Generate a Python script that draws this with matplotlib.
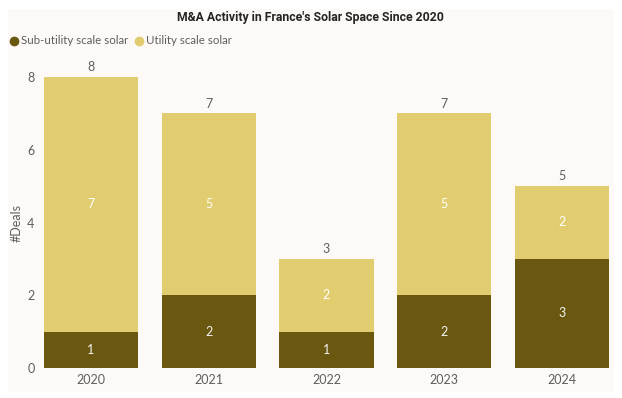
import matplotlib
matplotlib.use("Agg")
import matplotlib.pyplot as plt
from matplotlib.patches import Rectangle
import numpy as np

years = ["2020", "2021", "2022", "2023", "2024"]
sub_utility = [1, 2, 1, 2, 3]
utility = [7, 5, 2, 5, 2]
totals = [8, 7, 3, 7, 5]
y_ticks = [0, 2, 4, 6, 8]

W, H = 622, 398
fig = plt.figure(figsize=(W/100, H/100), dpi=100)
fig.patch.set_facecolor("white")
fig.add_artist(Rectangle((8/W, 6/H), (614-8)/W, (392-9)/H, transform=fig.transFigure,
                         facecolor="#fdf9f6", edgecolor="none", zorder=0))

plt.rcParams['font.family'] = ['Lato', 'DejaVu Sans']
dark = "#6a5810"
light = "#e1cd6f"
gray = "#605e5c"
fs = 9

ax_l, ax_r = 40, 612
ax_b, ax_t = 368, 77
ax = fig.add_axes([ax_l/W, 1-ax_b/H, (ax_r-ax_l)/W, (ax_b-ax_t)/H])
ax.set_facecolor("none")
x = np.arange(len(years))
ax.bar(x, sub_utility, width=0.8, color=dark, zorder=2)
ax.bar(x, utility, width=0.8, bottom=sub_utility, color=light, zorder=2)
for i in range(len(years)):
    ax.text(x[i], sub_utility[i]/2, str(sub_utility[i]), ha="center", va="center",
            color="#f2f2f2", fontsize=fs)
    ax.text(x[i], sub_utility[i] + utility[i]/2, str(utility[i]), ha="center", va="center",
            color="#ffffff", fontsize=fs)
    ax.text(x[i], totals[i] + 0.1, str(totals[i]), ha="center", va="bottom",
            color=gray, fontsize=fs, clip_on=False)

ax.set_xlim((ax_l-91)/117.75, (ax_r-91)/117.75)
ax.set_ylim(0, 8)
ax.set_yticks(y_ticks)
ax.set_xticks(x)
ax.set_xticklabels(years)
ax.tick_params(axis="both", length=0, colors=gray, labelsize=fs)
ax.tick_params(axis="x", pad=4)
ax.tick_params(axis="y", pad=4)
for s in ax.spines.values():
    s.set_visible(False)
ax.set_ylabel("#Deals", color=gray, fontsize=fs, labelpad=3)

fig.text(310/W, 1-17/H, "M&A Activity in France's Solar Space Since 2020", ha="center", va="center",
         fontsize=8.8, fontweight="bold", color="#252423",
         family=["Roboto", "DejaVu Sans"])

# legend
fig.canvas.draw()
r = fig.canvas.get_renderer()
ly = 1 - 41/H
lfs = 8.3
fig.add_artist(plt.Line2D([14/W], [ly], marker="o", markersize=6, color=dark,
                          transform=fig.transFigure))
t1 = fig.text(21/W, ly, "Sub-utility scale solar", ha="left", va="center", fontsize=lfs, color=gray)
bb = t1.get_window_extent(renderer=r)
x2 = bb.x1 + 11
fig.add_artist(plt.Line2D([x2/W], [ly], marker="o", markersize=6, color=light,
                          transform=fig.transFigure))
fig.text((x2 + 7)/W, ly, "Utility scale solar", ha="left", va="center", fontsize=lfs, color=gray)

fig.savefig("out.png", dpi=100)
